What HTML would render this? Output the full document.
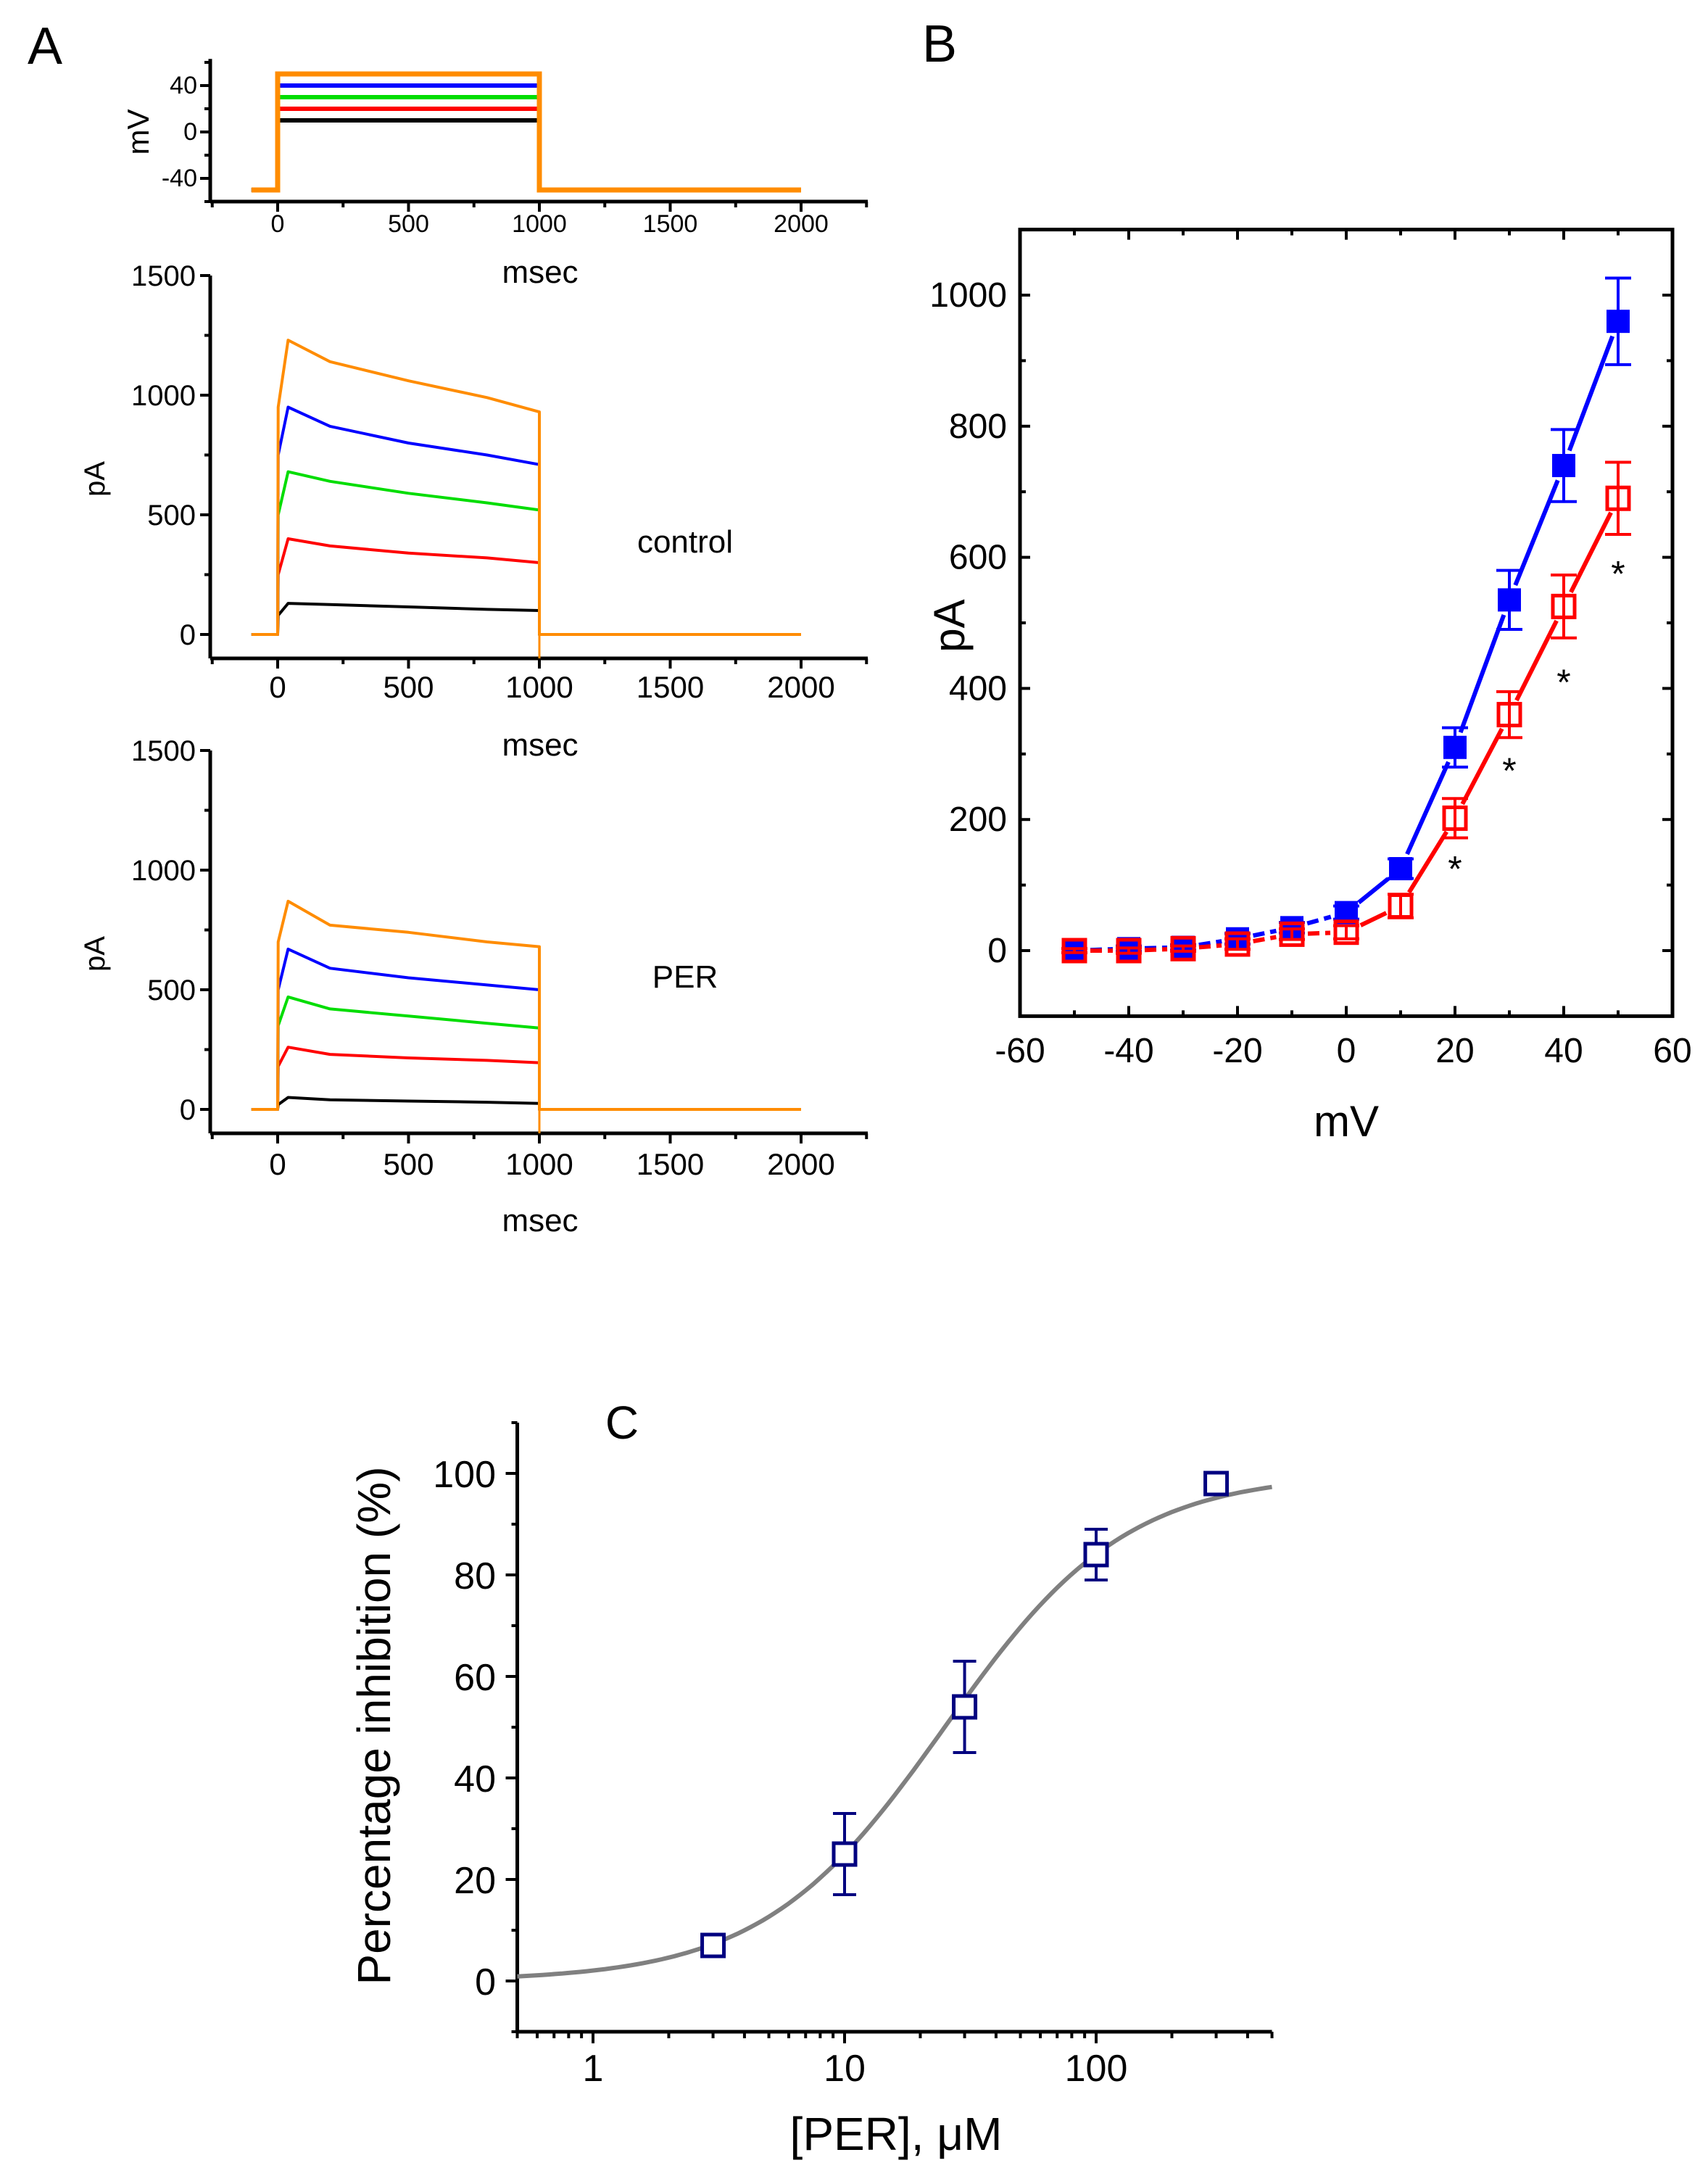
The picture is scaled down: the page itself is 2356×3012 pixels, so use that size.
<!DOCTYPE html>
<html><head><meta charset="utf-8"><style>
html,body{margin:0;padding:0;background:#fff;}
svg{display:block;font-family:"Liberation Sans",Arial,sans-serif;}
</style></head><body>
<svg id="fig" width="2356" height="3012" viewBox="0 0 2356 3012" xmlns="http://www.w3.org/2000/svg">
<rect width="2356" height="3012" fill="#fff"/>
</svg>
<script>
// ---------- Panel A data ----------
const stepLevels = [10, 20, 30, 40, 50];
const traceColors = ['#000000', '#ff0000', '#00dd00', '#0000ff', '#ff8c00'];
const traceTimes = [2, 40, 200, 500, 800, 1000];
const controlBlack = [80, 130, 125, 115, 105, 100];
const controlRed = [250, 400, 370, 340, 320, 300];
const controlGreen = [500, 680, 640, 590, 550, 520];
const controlBlue = [750, 950, 870, 800, 750, 710];
const controlOrange = [950, 1230, 1140, 1060, 990, 930];
const perBlack = [20, 50, 40, 35, 30, 25];
const perRed = [180, 260, 230, 215, 205, 195];
const perGreen = [350, 470, 420, 390, 360, 340];
const perBlue = [500, 670, 590, 550, 520, 500];
const perOrange = [700, 870, 770, 740, 700, 680];
const timeTicks = [0, 500, 1000, 1500, 2000];
const mvTicks = [-40, 0, 40];
const paTicks = [0, 500, 1000, 1500];
// ---------- Panel B data ----------
const ivVoltages = [-50, -40, -30, -20, -10, 0, 10, 20, 30, 40, 50];
const controlIV = [0, 3, 5, 18, 35, 58, 125, 310, 535, 740, 960];
const controlErr = [3, 4, 4, 8, 8, 10, 15, 30, 45, 55, 66];
const perIV = [0, 0, 3, 10, 25, 28, 68, 202, 360, 525, 690];
const perErr = [3, 4, 4, 8, 8, 10, 18, 30, 35, 48, 55];
const starVoltages = [20, 30, 40, 50];
const starValues = [130, 280, 415, 580];
const ivXTicks = [-60, -40, -20, 0, 20, 40, 60];
const ivYTicks = [0, 200, 400, 600, 800, 1000];
// ---------- Panel C data ----------
const concs = [3, 10, 30, 100, 300];
const inhibition = [7, 25, 54, 84, 98];
const inhibErr = [0, 8, 9, 5, 0];
const ic50 = 25;
const hill = 1.2;
const concTicks = [1, 10, 100];
const pctTicks = [0, 20, 40, 60, 80, 100];

const NS = 'http://www.w3.org/2000/svg';
const svg = document.getElementById('fig');
function el(tag, attrs, parent) {
  const e = document.createElementNS(NS, tag);
  for (const k in attrs) e.setAttribute(k, attrs[k]);
  (parent || svg).appendChild(e);
  return e;
}
function txt(s, x, y, size, parent, anchor, rot, weight) {
  const t = el('text', {x: x, y: y, 'font-size': size, 'text-anchor': anchor || 'middle', fill: '#000'}, parent);
  if (weight) t.setAttribute('font-weight', weight);
  if (rot) t.setAttribute('transform', 'rotate(' + rot + ' ' + x + ' ' + y + ')');
  t.textContent = s;
  return t;
}

// ===== Panel A =====
const gA = el('g', {});


const lblA = txt('A', 62, 88, 72, gA);


const tx = t => 383 + t * 0.361;
const AX0 = 290, AX1 = 1197;

function timeAxis(g, yAxis, labelY, titleY, fs) {
  el('line', {x1: AX0, y1: yAxis, x2: AX1, y2: yAxis, stroke: '#000', 'stroke-width': 5}, g);
  for (let t = -250; t <= 2250; t += 250) {
    const major = t % 500 === 0;
    el('line', {x1: tx(t), y1: yAxis, x2: tx(t), y2: yAxis + (major ? 14 : 8), stroke: '#000', 'stroke-width': 4}, g);
  }
  timeTicks.forEach(t => {
    const l = txt(String(t), tx(t), labelY, fs, g);
    
    
  });
  const tt = txt('msec', 745, titleY, 44, g);
  
  
}

// Voltage protocol
const gV = el('g', {}, gA);


const vy = v => 182 - 1.6 * v;
el('line', {x1: AX0, y1: vy(-60), x2: AX0, y2: vy(63), stroke: '#000', 'stroke-width': 5}, gV);
for (let v = -60; v <= 60; v += 20) {
  el('line', {x1: AX0, y1: vy(v), x2: AX0 - (v % 40 === 0 ? 14 : 8), y2: vy(v), stroke: '#000', 'stroke-width': 4}, gV);
}
mvTicks.forEach(v => {
  const l = txt(String(v), AX0 - 18, vy(v) + 11, 34, gV, 'end');
  
  
});
const mvT = txt('mV', 205, 182, 42, gV, 'middle', -90);


timeAxis(gV, vy(-60), 320, 390, 34);
stepLevels.forEach((lv, i) => {
  const p = el('polyline', {points: [tx(-100), vy(-50), tx(0), vy(-50), tx(0), vy(lv), tx(1000), vy(lv), tx(1000), vy(-50), tx(2000), vy(-50)].join(' '), fill: 'none', stroke: traceColors[i], 'stroke-width': i === 4 ? 7 : 6}, gV);
  
  
});

function currentPlot(name, zeroY, bottomY, labelY, titleY, series, condLabel, condY) {
  const g = el('g', {}, gA);
  
  
  const py = v => zeroY - v * 0.33;
  el('line', {x1: AX0, y1: bottomY, x2: AX0, y2: py(1500), stroke: '#000', 'stroke-width': 5}, g);
  for (let v = 0; v <= 1500; v += 250) {
    el('line', {x1: AX0, y1: py(v), x2: AX0 - (v % 500 === 0 ? 14 : 8), y2: py(v), stroke: '#000', 'stroke-width': 4}, g);
  }
  paTicks.forEach(v => {
    const l = txt(String(v), AX0 - 20, py(v) + 14, 40, g, 'end');
    
    
  });
  const yt = txt('pA', 144, py(650), 40, g, 'middle', -90);
  
  
  timeAxis(g, bottomY, labelY, titleY, 42);
  series.forEach((vals, i) => {
    const pts = [tx(-100), py(0), tx(0), py(0)];
    traceTimes.forEach((t, j) => { pts.push(tx(t), py(vals[j])); });
    pts.push(tx(1000), py(0));
    const end = i === 4 ? 2000 : 1850;
    pts.push(tx(end), py(0));
    const p = el('polyline', {points: pts.join(' '), fill: 'none', stroke: traceColors[i], 'stroke-width': 4, 'stroke-linejoin': 'round'}, g);
    
    
  });
  el('line', {x1: tx(1000), y1: py(0), x2: tx(1000), y2: bottomY, stroke: '#ff8c00', 'stroke-width': 3}, g);
  const cl = txt(condLabel, 945, condY, 44, g);
  
  
}
currentPlot('control-current-plot', 875, 908, 962, 1042,
  [controlBlack, controlRed, controlGreen, controlBlue, controlOrange], 'control', 762);
currentPlot('per-current-plot', 1530, 1563, 1620, 1698,
  [perBlack, perRed, perGreen, perBlue, perOrange], 'PER', 1362);

// ===== Panel B =====
const gB = el('g', {});


const lblB = txt('B', 1296, 85, 72, gB);


const bx = v => 1857 + v * 7.5;
const by = v => 1311 - v * 0.904;
const BL = bx(-60), BR = bx(60), BT = by(1100), BB = by(-100);
el('rect', {x: BL, y: BT, width: BR - BL, height: BB - BT, fill: 'none', stroke: '#000', 'stroke-width': 5}, gB);
for (let v = -60; v <= 60; v += 10) {
  const len = v % 20 === 0 ? 14 : 8;
  el('line', {x1: bx(v), y1: BB, x2: bx(v), y2: BB - len, stroke: '#000', 'stroke-width': 4}, gB);
  el('line', {x1: bx(v), y1: BT, x2: bx(v), y2: BT + len, stroke: '#000', 'stroke-width': 4}, gB);
}
for (let v = -100; v <= 1100; v += 100) {
  const len = v % 200 === 0 ? 14 : 8;
  el('line', {x1: BL, y1: by(v), x2: BL + len, y2: by(v), stroke: '#000', 'stroke-width': 4}, gB);
  el('line', {x1: BR, y1: by(v), x2: BR - len, y2: by(v), stroke: '#000', 'stroke-width': 4}, gB);
}
ivXTicks.forEach(v => {
  const l = txt(String(v), bx(v), 1465, 48, gB);
  
  
});
ivYTicks.forEach(v => {
  const l = txt(String(v), BL - 18, by(v) + 16, 48, gB, 'end');
  
  
});
const bxt = txt('mV', bx(0), 1567, 60, gB);


const byt = txt('pA', 1330, 863, 60, gB, 'middle', -90);



function ivSeries(vals, errs, color, filled, name) {
  const g = el('g', {}, gB);
  
  
  for (let i = 0; i < vals.length - 1; i++) {
    const x1 = bx(ivVoltages[i]), y1 = by(vals[i]), x2 = bx(ivVoltages[i + 1]), y2 = by(vals[i + 1]);
    const dx = x2 - x1, dy = y2 - y1, L = Math.hypot(dx, dy), g0 = 22;
    if (L <= 2 * g0) continue;
    const dashed = ivVoltages[i + 1] <= 0;
    el('line', {x1: x1 + dx * g0 / L, y1: y1 + dy * g0 / L, x2: x2 - dx * g0 / L, y2: y2 - dy * g0 / L,
      stroke: color, 'stroke-width': 6, 'stroke-dasharray': dashed ? '16 8' : 'none'}, g);
  }
  vals.forEach((v, i) => {
    const x = bx(ivVoltages[i]), y = by(v), e = errs[i];
    el('line', {x1: x, y1: by(v + e), x2: x, y2: by(v - e), stroke: color, 'stroke-width': 4}, g);
    el('line', {x1: x - 18, y1: by(v + e), x2: x + 18, y2: by(v + e), stroke: color, 'stroke-width': 4}, g);
    el('line', {x1: x - 18, y1: by(v - e), x2: x + 18, y2: by(v - e), stroke: color, 'stroke-width': 4}, g);
    const r = el('rect', {x: x - 15, y: y - 15, width: 30, height: 30, fill: filled ? color : 'none', stroke: color, 'stroke-width': filled ? 2 : 5}, g);
    
    
  });
}
ivSeries(controlIV, controlErr, '#0000ff', true, 'control-iv-series');
ivSeries(perIV, perErr, '#ff0000', false, 'per-iv-series');
starVoltages.forEach((v, i) => {
  const s = txt('*', bx(v), by(starValues[i]) + 22, 50, gB);
  
  
});

// ===== Panel C =====
const gC = el('g', {});


const cx = c => 818 + Math.log10(c) * 347;
const cy = v => 2732 - v * 7;
const CL = cx(0.5), CR = cx(500), CB = cy(-10), CT = cy(110);
const lblC = txt('C', 858, 1984, 64, gC);


el('line', {x1: CL, y1: CT, x2: CL, y2: CB, stroke: '#000', 'stroke-width': 5}, gC);
el('line', {x1: CL, y1: CB, x2: CR, y2: CB, stroke: '#000', 'stroke-width': 5}, gC);
for (let v = -10; v <= 110; v += 10) {
  el('line', {x1: CL, y1: cy(v), x2: CL - (v % 20 === 0 ? 16 : 8), y2: cy(v), stroke: '#000', 'stroke-width': 4}, gC);
}
for (let d = 0.1; d < 1000; d *= 10) {
  for (let m = 1; m <= 9; m++) {
    const c = d * m;
    if (c < 0.5 || c > 500) continue;
    el('line', {x1: cx(c), y1: CB, x2: cx(c), y2: CB + (m === 1 ? 16 : 9), stroke: '#000', 'stroke-width': 4}, gC);
  }
}
concTicks.forEach(c => {
  const l = txt(String(c), cx(c), 2870, 52, gC);
  
  
});
pctTicks.forEach(v => {
  const l = txt(String(v), 684, cy(v) + 19, 52, gC, 'end');
  
  
});
const cxt = txt('[PER], \u03bcM', 1236, 2965, 64, gC);


const cyt = txt('Percentage inhibition (%)', 538, 2380, 64, gC, 'middle', -90);


const fitPts = [];
for (let k = 0; k <= 120; k++) {
  const c = Math.pow(10, Math.log10(0.5) + k * (Math.log10(500) - Math.log10(0.5)) / 120);
  fitPts.push(cx(c).toFixed(1) + ',' + cy(100 / (1 + Math.pow(ic50 / c, hill))).toFixed(1));
}
const fit = el('polyline', {points: fitPts.join(' '), fill: 'none', stroke: '#808080', 'stroke-width': 6}, gC);


concs.forEach((c, i) => {
  const x = cx(c), y = cy(inhibition[i]), e = inhibErr[i];
  if (e > 0) {
    el('line', {x1: x, y1: cy(inhibition[i] + e), x2: x, y2: cy(inhibition[i] - e), stroke: '#000080', 'stroke-width': 4}, gC);
    el('line', {x1: x - 16, y1: cy(inhibition[i] + e), x2: x + 16, y2: cy(inhibition[i] + e), stroke: '#000080', 'stroke-width': 4}, gC);
    el('line', {x1: x - 16, y1: cy(inhibition[i] - e), x2: x + 16, y2: cy(inhibition[i] - e), stroke: '#000080', 'stroke-width': 4}, gC);
  }
  const r = el('rect', {x: x - 15, y: y - 15, width: 30, height: 30, fill: '#fff', stroke: '#000080', 'stroke-width': 5}, gC);
  
  
});
</script>
</body></html>
